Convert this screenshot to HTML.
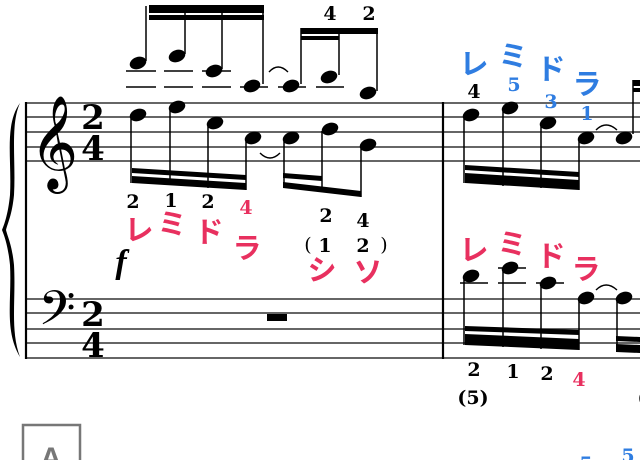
<!DOCTYPE html>
<html><head><meta charset="utf-8"><style>
html,body{margin:0;padding:0;background:#fff;}
svg{display:block}
.f{font-family:"DejaVu Serif","Liberation Serif",serif;font-weight:bold;font-size:19px;text-anchor:middle}
.k{font-family:"Liberation Sans","Noto Sans CJK JP",sans-serif;font-weight:bold;font-size:29px;text-anchor:middle}
.r{fill:#e8305f}.b{fill:#2f7de1}
.ts{font-family:"DejaVu Serif","Liberation Serif",serif;font-weight:bold;font-size:34px;text-anchor:middle}
</style></head><body>
<svg width="640" height="460" viewBox="0 0 640 460" xmlns="http://www.w3.org/2000/svg">
<g stroke="#333" stroke-width="1.6">
<line x1="26" y1="103" x2="640" y2="103"/><line x1="26" y1="117" x2="640" y2="117"/><line x1="26" y1="132" x2="640" y2="132"/><line x1="26" y1="147" x2="640" y2="147"/><line x1="26" y1="161" x2="640" y2="161"/>
<line x1="26" y1="299" x2="640" y2="299"/><line x1="26" y1="313" x2="640" y2="313"/><line x1="26" y1="329" x2="640" y2="329"/><line x1="26" y1="343" x2="640" y2="343"/><line x1="26" y1="358" x2="640" y2="358"/>
</g>
<g stroke="#000" stroke-width="2.2"><line x1="26" y1="102" x2="26" y2="359"/><line x1="443" y1="102" x2="443" y2="359"/></g>
<path d="M20 103 C4 125 12 160 10 195 C8 215 4 225 2 230 C4 235 8 245 10 265 C12 300 4 330 20 357 C10 330 16 300 14 265 C12 245 8 238 6 230 C8 222 12 215 14 195 C16 160 10 125 20 103Z" fill="#000"/>
<text x="54" y="170" font-family="DejaVu Sans,serif" font-size="82" text-anchor="middle">𝄞</text>
<text x="57" y="334" font-family="DejaVu Sans,serif" font-size="58" text-anchor="middle">𝄢</text>
<text class="ts" x="93" y="129">2</text><text class="ts" x="93" y="160">4</text>
<text class="ts" x="93" y="326">2</text><text class="ts" x="93" y="357">4</text>
<rect x="267" y="314" width="20" height="7" fill="#000"/>
<g stroke="#000" stroke-width="1.6">
<line x1="126" y1="71" x2="156" y2="71"/><line x1="126" y1="87" x2="156" y2="87"/>
<line x1="164" y1="71" x2="193" y2="71"/><line x1="164" y1="87" x2="193" y2="87"/>
<line x1="202" y1="71" x2="231" y2="71"/><line x1="202" y1="87" x2="231" y2="87"/>
<line x1="240" y1="87" x2="268" y2="87"/><line x1="278" y1="87" x2="306" y2="87"/><line x1="316" y1="87" x2="344" y2="87"/>
<line x1="460" y1="283" x2="488" y2="283"/><line x1="498" y1="283" x2="526" y2="283"/><line x1="498" y1="268" x2="526" y2="268"/><line x1="536" y1="283" x2="564" y2="283"/>
</g>
<g fill="#000">
<ellipse cx="138" cy="63" rx="8.5" ry="6" transform="rotate(-20 138 63)"/>
<ellipse cx="177" cy="56" rx="8.5" ry="6" transform="rotate(-20 177 56)"/>
<ellipse cx="214" cy="71" rx="8.5" ry="6" transform="rotate(-20 214 71)"/>
<ellipse cx="252" cy="86" rx="8.5" ry="6" transform="rotate(-20 252 86)"/>
<ellipse cx="291" cy="86" rx="8.5" ry="6" transform="rotate(-20 291 86)"/>
<ellipse cx="329" cy="77" rx="8.5" ry="6" transform="rotate(-20 329 77)"/>
<ellipse cx="368" cy="93" rx="8.5" ry="6" transform="rotate(-20 368 93)"/>
<ellipse cx="138" cy="115" rx="8.5" ry="6" transform="rotate(-20 138 115)"/>
<ellipse cx="177" cy="107" rx="8.5" ry="6" transform="rotate(-20 177 107)"/>
<ellipse cx="215" cy="123" rx="8.5" ry="6" transform="rotate(-20 215 123)"/>
<ellipse cx="253" cy="138" rx="8.5" ry="6" transform="rotate(-20 253 138)"/>
<ellipse cx="291" cy="138" rx="8.5" ry="6" transform="rotate(-20 291 138)"/>
<ellipse cx="330" cy="129" rx="8.5" ry="6" transform="rotate(-20 330 129)"/>
<ellipse cx="368" cy="145" rx="8.5" ry="6" transform="rotate(-20 368 145)"/>
<ellipse cx="471" cy="115" rx="8.5" ry="6" transform="rotate(-20 471 115)"/>
<ellipse cx="510" cy="108" rx="8.5" ry="6" transform="rotate(-20 510 108)"/>
<ellipse cx="548" cy="123" rx="8.5" ry="6" transform="rotate(-20 548 123)"/>
<ellipse cx="586" cy="138" rx="8.5" ry="6" transform="rotate(-20 586 138)"/>
<ellipse cx="624" cy="138" rx="8.5" ry="6" transform="rotate(-20 624 138)"/>
<ellipse cx="471" cy="276" rx="8.5" ry="6" transform="rotate(-20 471 276)"/>
<ellipse cx="510" cy="268" rx="8.5" ry="6" transform="rotate(-20 510 268)"/>
<ellipse cx="548" cy="283" rx="8.5" ry="6" transform="rotate(-20 548 283)"/>
<ellipse cx="586" cy="298" rx="8.5" ry="6" transform="rotate(-20 586 298)"/>
<ellipse cx="624" cy="298" rx="8.5" ry="6" transform="rotate(-20 624 298)"/>
<polygon points="149,5 264,5 264,13 149,13"/><polygon points="149,15 264,15 264,20 149,20"/>
<polygon points="301,28 378,28 378,34 301,34"/><polygon points="301,36 339,36 339,40 301,40"/>
<polygon points="132,168 246,175 246,180 132,173"/><polygon points="132,176 246,183 246,190 132,183"/>
<polygon points="283,173 322,176 322,181 283,178"/><polygon points="283,182 361,191 361,197 283,188"/>
<polygon points="465,165 579,172 579,177 465,170"/><polygon points="465,173 579,180 579,190 465,183"/>
<polygon points="465,326 579,330 579,335 465,331"/><polygon points="465,334 579,339 579,350 465,345"/>
<polygon points="616,336 640,337 640,342 616,341"/><polygon points="616,344 640,345 640,353 616,352"/>
<polygon points="633,80 640,80 640,86 633,86"/><polygon points="633,88 640,88 640,92 633,92"/>
</g>
<g stroke="#000" stroke-width="1.5">
<line x1="146" y1="61" x2="146" y2="6"/><line x1="185" y1="54" x2="185" y2="6"/><line x1="222" y1="69" x2="222" y2="6"/><line x1="263" y1="84" x2="263" y2="6"/>
<line x1="301" y1="84" x2="301" y2="28"/><line x1="339" y1="75" x2="339" y2="28"/><line x1="377" y1="91" x2="377" y2="28"/>
<line x1="131" y1="117" x2="131" y2="183"/><line x1="170" y1="109" x2="170" y2="185"/><line x1="208" y1="125" x2="208" y2="188"/><line x1="246" y1="140" x2="246" y2="190"/>
<line x1="284" y1="140" x2="284" y2="188"/><line x1="322" y1="131" x2="322" y2="192"/><line x1="361" y1="147" x2="361" y2="197"/>
<line x1="464" y1="117" x2="464" y2="183"/><line x1="503" y1="110" x2="503" y2="186"/><line x1="541" y1="125" x2="541" y2="188"/><line x1="579" y1="140" x2="579" y2="190"/>
<line x1="464" y1="278" x2="464" y2="345"/><line x1="503" y1="270" x2="503" y2="347"/><line x1="541" y1="285" x2="541" y2="349"/><line x1="579" y1="300" x2="579" y2="350"/><line x1="617" y1="300" x2="617" y2="352"/>
<line x1="633" y1="134" x2="633" y2="80"/>
</g>
<g fill="none" stroke="#000" stroke-width="1.4">
<path d="M269 72 Q278 62 288 72"/><path d="M260 153 Q270 163 280 153"/>
<path d="M596 130 Q606 120 617 130"/><path d="M596 290 Q606 280 617 290"/>
</g>
<g class="f" fill="#000">
<text x="330" y="20">4</text><text x="369" y="20">2</text>
<text x="133" y="208">2</text><text x="171" y="207">1</text><text x="208" y="208">2</text>
<text x="326" y="222">2</text><text x="363" y="227">4</text>
<text x="308" y="251" font-weight="normal">(</text><text x="325" y="252">1</text><text x="363" y="252">2</text><text x="384" y="251" font-weight="normal">)</text>
<text x="474" y="98">4</text>
<text x="474" y="376">2</text><text x="513" y="378">1</text><text x="547" y="380">2</text>
<text x="473" y="404">(5)</text>
<text x="642" y="404">(</text>
</g>
<text class="f r" x="246" y="214">4</text>
<text class="f r" x="579" y="386">4</text>
<g class="f b"><text x="514" y="91">5</text><text x="551" y="108">3</text><text x="587" y="120">1</text>
<text x="586" y="470">5</text><text x="628" y="462">5</text></g>
<text x="121" y="273" font-family="Liberation Serif,serif" font-style="italic" font-weight="bold" font-size="34" text-anchor="middle">f</text>
<g class="k r">
<text x="139" y="240">レ</text><text x="172" y="234">ミ</text><text x="209" y="242">ド</text><text x="247" y="258">ラ</text>
<text x="322" y="280">シ</text><text x="368" y="282">ソ</text>
<text x="474" y="260">レ</text><text x="512" y="254">ミ</text><text x="551" y="266">ド</text><text x="586" y="279">ラ</text>
</g>
<g class="k b">
<text x="474" y="74">レ</text><text x="513" y="66">ミ</text><text x="551" y="79">ド</text><text x="587" y="94">ラ</text>
</g>
<rect x="23" y="425" width="57" height="40" fill="none" stroke="#777" stroke-width="2.5"/>
<text x="51" y="468" font-family="Liberation Sans,sans-serif" font-weight="bold" font-size="30" fill="#777" text-anchor="middle">A</text>
</svg>
</body></html>
